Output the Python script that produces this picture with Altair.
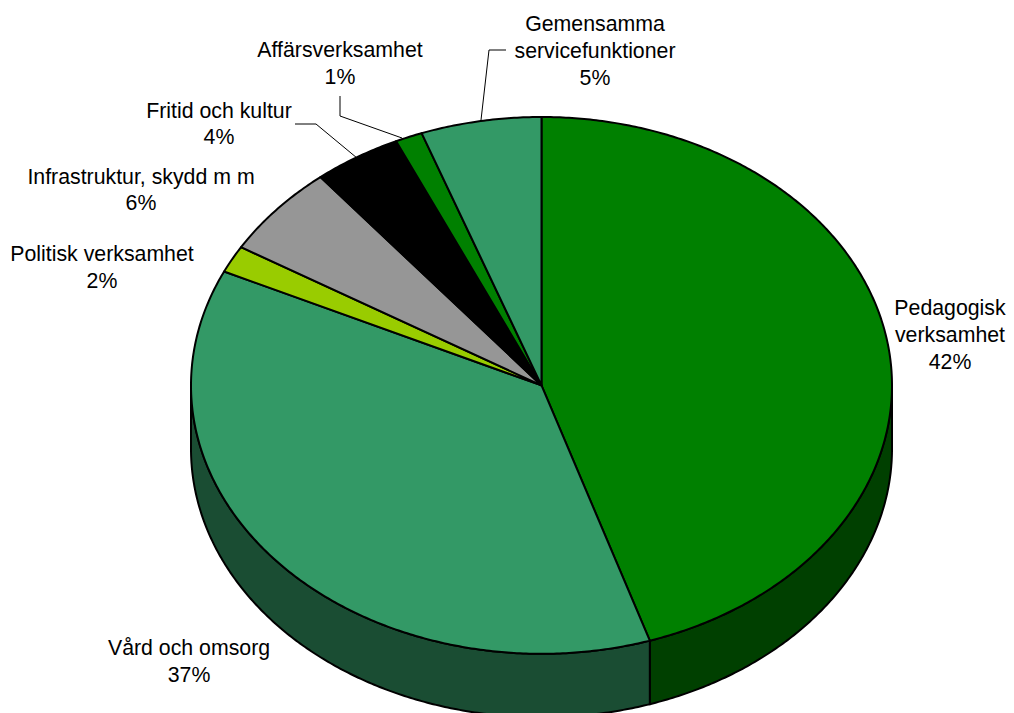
import math
import altair as alt

# Sweep of each slice as drawn (degrees clockwise from 12 o'clock)
categories = ["Pedagogisk verksamhet", "Vård och omsorg", "Politisk verksamhet",
              "Infrastruktur, skydd m m", "Fritid och kultur", "Affärsverksamhet",
              "Gemensamma servicefunktioner"]
sweeps = [162.0, 133.1, 5.9, 19.9, 14.6, 4.5, 20.0]
top_colors = ["#008000", "#339966", "#99CC00", "#969696", "#000000", "#008000", "#339966"]
side_colors = ["#004000", "#1A4D33", "#4D6600", "#4B4B4B", "#000000", "#004000", "#1A4D33"]

# Label lines and their anchor points, in picture coordinates
label_lines = ["Gemensamma", "servicefunktioner", "5%",
               "Affärsverksamhet", "1%",
               "Fritid och kultur", "4%",
               "Infrastruktur, skydd m m", "6%",
               "Politisk verksamhet", "2%",
               "Pedagogisk", "verksamhet", "42%",
               "Vård och omsorg", "37%"]
label_x = [595, 595, 595, 340, 340, 219, 219, 141, 141, 102, 102, 950, 950, 950, 189, 189]
label_y = [25, 52, 79, 51, 78, 112, 138, 178, 204, 255, 282, 309, 336, 363, 649, 676]

# Leader lines
leader_id = [0, 0, 0, 1, 1, 1, 2, 2, 2]
leader_x = [506, 489, 481, 340, 340, 402, 295, 316, 357]
leader_y = [50, 50, 120, 96, 116, 138, 124, 124, 158]

CX, CY, RX, RY, DEPTH = 541.5, 385.4, 350.5, 268.4, 63.5
W, H = 998, 705


def rim(theta, dy=0.0):
    a = math.radians(theta)
    return [CX + RX * math.sin(a), CY - RY * math.cos(a) + dy]


def arc(t0, t1, dy=0.0):
    n = max(2, int(abs(t1 - t0) * 2))
    return [rim(t0 + (t1 - t0) * i / n, dy) for i in range(n + 1)]


def feature(ring, fill):
    return {"type": "Feature", "properties": {"fill": fill},
            "geometry": {"type": "Polygon", "coordinates": [ring + [ring[0]]]}}


features = []
start = 0.0
spans = []
for s, c, sc in zip(sweeps, top_colors, side_colors):
    spans.append((start, start + s, c, sc))
    start += s

# Rim side walls (only the front half of the disc shows)
for t0, t1, c, sc in spans:
    a, b = max(t0, 90.0), min(t1, 270.0)
    if b > a:
        features.append(feature(arc(a, b) + arc(b, a, DEPTH), sc))
# Top slices
for t0, t1, c, sc in spans:
    features.append(feature([[CX, CY]] + arc(t0, t1), c))

pie = alt.Chart(alt.InlineData(values={"type": "FeatureCollection", "features": features},
                               format=alt.DataFormat(property="features", type="json"))
                ).mark_geoshape(stroke="black", strokeWidth=2, strokeJoin="round").encode(
    fill=alt.Fill("properties.fill:N", scale=None)
).project(type="identity", scale=1, translate=[-8, -8])

x_scale = alt.Scale(domain=[8, 8 + W], range=[0, W])
y_scale = alt.Scale(domain=[8, 8 + H], range=[0, H])

leaders = alt.Chart(alt.Data(values=[
    {"id": i, "x": x, "y": y, "o": k}
    for k, (i, x, y) in enumerate(zip(leader_id, leader_x, leader_y))
])).mark_line(color="black", strokeWidth=1).encode(
    x=alt.X("x:Q", scale=x_scale, axis=None),
    y=alt.Y("y:Q", scale=y_scale, axis=None),
    detail="id:N",
    order="o:Q",
)

labels = alt.Chart(alt.Data(values=[
    {"t": t, "x": x, "y": y} for t, x, y in zip(label_lines, label_x, label_y)
])).mark_text(font="Liberation Sans", fontSize=21.3, color="black",
              align="center", baseline="middle").encode(
    x=alt.X("x:Q", scale=x_scale, axis=None),
    y=alt.Y("y:Q", scale=y_scale, axis=None),
    text="t:N",
)

chart = alt.layer(pie, leaders, labels).properties(
    width=W, height=H, padding=0,
    autosize=alt.AutoSizeParams(type="none"),
).configure_view(stroke=None)

chart.save("out.html", embed_options={"renderer": "svg", "actions": False})
